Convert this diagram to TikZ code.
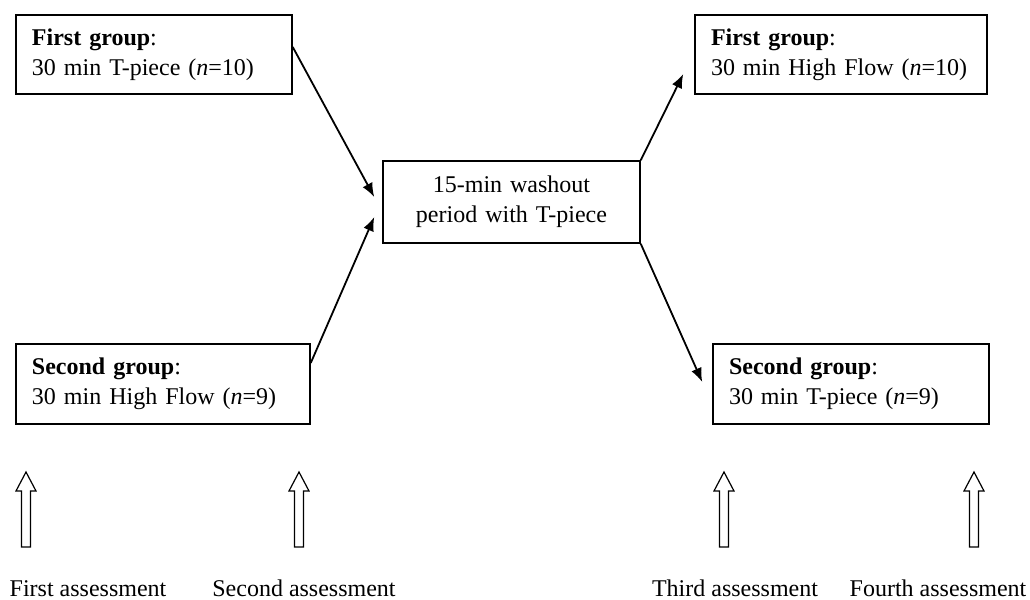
\documentclass[tikz,border=0pt]{standalone}
\usepackage{fontspec}
\setmainfont{Liberation Serif}
\usetikzlibrary{arrows.meta}

\tikzset{
  grp/.style={draw, line width=0.75pt, align=left, inner xsep=8pt, minimum height=39.5pt, font=\fontsize{12}{15}\selectfont},
  link/.style={line width=0.9pt, -{Latex[length=7pt,width=5.5pt]}},
  lbl/.style={anchor=base, inner sep=0pt, font=\fontsize{12}{15}\selectfont},
}

\begin{document}
\begin{tikzpicture}[x=0.5pt, y=-0.5pt]
        \useasboundingbox (0,0) rectangle (1030,600);
        % groups before and after the washout
        \node[grp, text width=122pt] (grpAtp) at (154,54.5) {\textbf{First group}:\\30 min T-piece (\textit{n}=10)};
        \node[grp, text width=131pt, minimum height=40pt] (grpBhf) at (163,384) {\textbf{Second group}:\\30 min High Flow (\textit{n}=9)};
        \node[grp, align=center, text width=112.5pt, minimum height=41pt] (wash) at (511.5,202) {15-min washout\\period with T-piece};
        \node[grp, text width=130pt] (grpAhf) at (841,54.5) {\textbf{First group}:\\30 min High Flow (\textit{n}=10)};
        \node[grp, text width=122pt, minimum height=40pt] (grpBtp) at (851,384) {\textbf{Second group}:\\30 min T-piece (\textit{n}=9)};
        \draw[link] ([yshift=3.75pt]grpAtp.east) -- ([xshift=-4pt,yshift=2.5pt]wash.west);
        \draw[link] ([yshift=10.5pt]grpBhf.east) -- ([xshift=-4pt,yshift=-7.5pt]wash.west);
        \draw[link] (wash.north east) -- ([xshift=-5.5pt,yshift=-9.75pt]grpAhf.west);
        \draw[link] (wash.south east) -- ([xshift=-5pt,yshift=1pt]grpBtp.west);
        % assessment points
        \foreach \x in {26,299,724,974}{
        \draw[line width=0.6pt] (\x-4.5,547) -- (\x-4.5,491) -- (\x-10,491) -- (\x,472) -- (\x+10,491) -- (\x+4.5,491) -- (\x+4.5,547) -- cycle;}
        \foreach \x/\n/\t in {88/ass1/First, 304/ass2/Second, 735/ass3/Third, 938/ass4/Fourth}{
        \node[lbl] (\n) at (\x,596) {\t{} assessment};}
\end{tikzpicture}
\end{document}
